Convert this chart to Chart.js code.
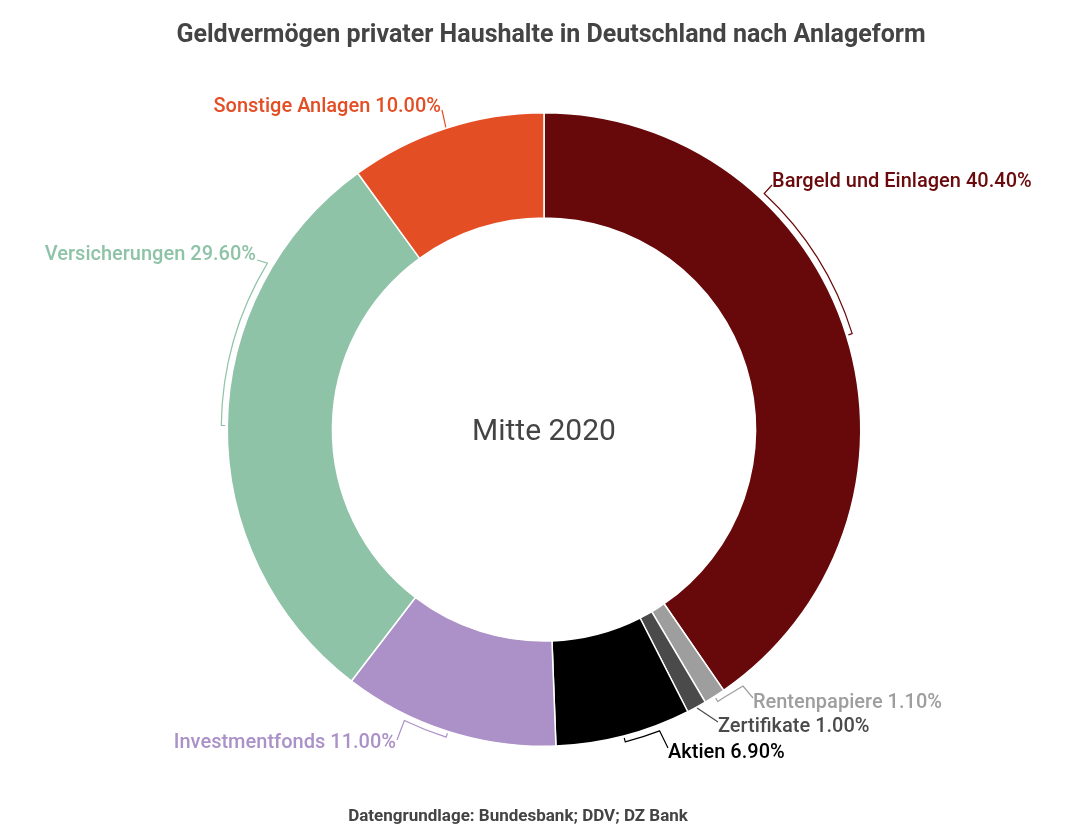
<!DOCTYPE html>
<html>
<head>
<meta charset="utf-8">
<script src="https://cdn.jsdelivr.net/npm/chart.js@4.4.1/dist/chart.umd.min.js"></script>
<style>
html,body{margin:0;padding:0;background:#fff;}
#wrap{position:relative;width:1078px;height:839px;}
canvas{display:block;}
</style>
</head>
<body>
<div id="wrap"><canvas id="c" width="1078" height="839"></canvas></div>
<script>
// ---- data ----
const chartTitle = 'Geldvermögen privater Haushalte in Deutschland nach Anlageform';
const centerText = 'Mitte 2020';
const sourceText = 'Datengrundlage: Bundesbank; DDV; DZ Bank';
const categories = ['Bargeld und Einlagen', 'Rentenpapiere', 'Zertifikate', 'Aktien', 'Investmentfonds', 'Versicherungen', 'Sonstige Anlagen'];
const shares = [40.4, 1.1, 1.0, 6.9, 11.0, 29.6, 10.0];
const colors = ['#67080a', '#9e9e9e', '#4a4a4a', '#000000', '#ab91c7', '#8fc3a7', '#e44e25'];
const labelColors = ['#6a0a0c', '#9e9e9e', '#4a4a4a', '#000000', '#ab91c7', '#8fc3a7', '#e44e25'];

// ---- label layout (positions only) ----
const labelLayout = [
  {x: 772, y: 181, align: 'left',  bracket: -29.7, path: [[772, 185]]},
  {x: 753, y: 702, align: 'left',  bracket: -1.3,  path: [[743, 686], [753, 698]]},
  {x: 718, y: 726, align: 'left',  bracket: null,  path: [[718, 722]]},
  {x: 668, y: 752, align: 'left',  bracket: -6.4,  path: [[668, 748]]},
  {x: 396, y: 742, align: 'right', bracket: 8.0,   path: [[397, 740]]},
  {x: 256, y: 254, align: 'right', bracket: 30.3,  path: [[257, 260]]},
  {x: 441, y: 106, align: 'right', bracket: null,  path: [[442, 110]]}
];

const textPlugin = {
  id: 'texts',
  afterDraw(chart) {
    const ctx = chart.ctx;
    const meta = chart.getDatasetMeta(0);
    ctx.save();
    // title
    ctx.fillStyle = '#444444';
    ctx.textAlign = 'center';
    ctx.textBaseline = 'middle';
    ctx.font = 'bold 25px Roboto';
    ctx.fillText(chartTitle, 551, 36);
    // center
    ctx.font = '30px Roboto';
    ctx.fillText(centerText, 544, 432);
    // source
    ctx.font = 'bold 17px Roboto';
    ctx.fillText(sourceText, 518, 817);

    meta.data.forEach((arc, i) => {
      const p = arc.getProps(['x', 'y', 'startAngle', 'endAngle', 'outerRadius'], true);
      const lay = labelLayout[i];
      const col = labelColors[i];
      const mid = (p.startAngle + p.endAngle) / 2;
      ctx.strokeStyle = col;
      ctx.lineWidth = 1.2;
      ctx.beginPath();
      let sx, sy;
      if (lay.bracket !== null) {
        const rb = p.outerRadius + 6;
        const ri = p.outerRadius + 2;
        const endA = mid + lay.bracket * Math.PI / 180;
        ctx.moveTo(p.x + ri * Math.cos(mid), p.y + ri * Math.sin(mid));
        ctx.lineTo(p.x + rb * Math.cos(mid), p.y + rb * Math.sin(mid));
        ctx.arc(p.x, p.y, rb, mid, endA, lay.bracket < 0);
        sx = p.x + rb * Math.cos(endA);
        sy = p.y + rb * Math.sin(endA);
      } else {
        sx = p.x + (p.outerRadius + 1) * Math.cos(mid);
        sy = p.y + (p.outerRadius + 1) * Math.sin(mid);
        ctx.moveTo(sx, sy);
      }
      lay.path.forEach(pt => ctx.lineTo(pt[0], pt[1]));
      ctx.stroke();

      ctx.fillStyle = col;
      ctx.font = '500 20px "Roboto Medium", Roboto';
      ctx.textAlign = lay.align;
      ctx.textBaseline = 'middle';
      ctx.fillText(categories[i] + ' ' + shares[i].toFixed(2) + '%', lay.x, lay.y);
    });
    ctx.restore();
  }
};

new Chart(document.getElementById('c'), {
  type: 'doughnut',
  data: {
    labels: categories,
    datasets: [{
      data: shares,
      backgroundColor: colors,
      borderColor: '#ffffff',
      borderWidth: 1.5
    }]
  },
  options: {
    responsive: false,
    animation: false,
    devicePixelRatio: 1,
    cutout: '66.8%',
    layout: {padding: {left: 226, right: 216, top: 112, bottom: 92}},
    plugins: {legend: {display: false}, tooltip: {enabled: false}, title: {display: false}}
  },
  plugins: [textPlugin]
});
</script>
</body>
</html>
